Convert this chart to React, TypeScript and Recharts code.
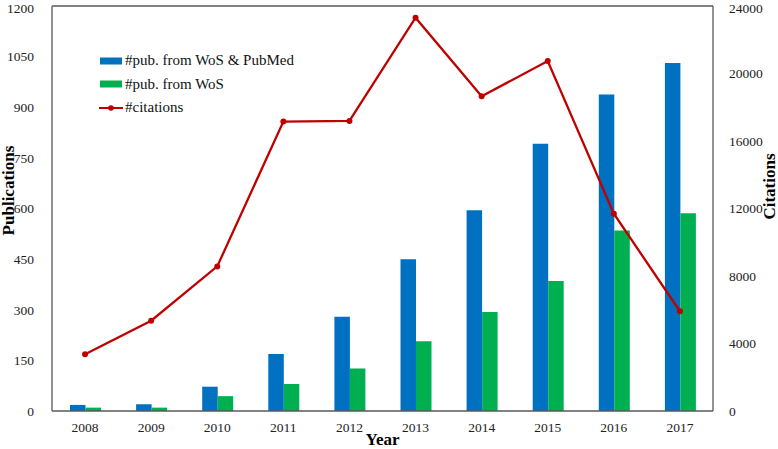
import React from "react";
import {
  ComposedChart,
  Bar,
  Line,
  XAxis,
  YAxis,
  ReferenceLine,
} from "recharts";

const years = ["2008", "2009", "2010", "2011", "2012", "2013", "2014", "2015", "2016", "2017"];
const pubWosPubmed = [18, 20, 72, 169, 279, 450, 595, 792, 938, 1031];
const pubWos = [10, 10, 44, 80, 126, 207, 293, 385, 535, 586];
const citations = [3360, 5350, 8570, 17150, 17190, 23310, 18650, 20740, 11690, 5910];

const leftTicks = [0, 150, 300, 450, 600, 750, 900, 1050, 1200];
const rightTicks = [0, 4000, 8000, 12000, 16000, 20000, 24000];

const BLUE = "#0070C0";
const GREEN = "#00B050";
const RED = "#C00000";
const AXIS = "#595959";
const FONT = "'Liberation Serif', 'Times New Roman', serif";

const data = years.map((y, i) => ({
  year: y,
  both: pubWosPubmed[i],
  wos: pubWos[i],
  cites: citations[i],
}));

const tickStyle = { fontFamily: FONT, fontSize: 13.5, fill: "#222" };

const legendItems = [
  { label: "#pub. from WoS & PubMed", color: BLUE, kind: "bar" },
  { label: "#pub. from WoS", color: GREEN, kind: "bar" },
  { label: "#citations", color: RED, kind: "line" },
];

function ChartLegend() {
  return (
    <div
      style={{
        position: "absolute",
        top: 49,
        left: 99,
        fontFamily: FONT,
        fontSize: 15,
        color: "#111",
      }}
    >
      {legendItems.map((it) => (
        <div key={it.label} style={{ display: "flex", alignItems: "center", height: 23.5 }}>
          <svg width={24} height={10} style={{ marginRight: 2 }}>
            {it.kind === "bar" ? (
              <rect x={1} y={1.5} width={22} height={7} fill={it.color} />
            ) : (
              <g>
                <line x1={0} y1={5} x2={24} y2={5} stroke={it.color} strokeWidth={2} />
                <circle cx={12} cy={5} r={2.8} fill={it.color} />
              </g>
            )}
          </svg>
          <span>{it.label}</span>
        </div>
      ))}
    </div>
  );
}

function rotatedLabel(text: string, dx: number, dy: number) {
  return ({ viewBox }: any) => {
    const x = viewBox.x + dx;
    const y = viewBox.y + viewBox.height / 2 + dy;
    return (
      <text
        x={x}
        y={y}
        transform={`rotate(-90, ${x}, ${y})`}
        textAnchor="middle"
        style={{ fontFamily: FONT, fontSize: 17, fontWeight: "bold", fill: "#000" }}
      >
        {text}
      </text>
    );
  };
}

export default function App() {
  return (
    <div style={{ position: "relative", width: 778, height: 449 }}>
      <style>{"body{margin:0;background:#fff}"}</style>
      <ComposedChart
        width={778}
        height={449}
        data={data}
        margin={{ top: 6, right: 0, bottom: 0, left: 0 }}
        barGap={0}
        barCategoryGap="26%"
      >
        <XAxis
          dataKey="year"
          height={38}
          tickLine={false}
          axisLine={{ stroke: AXIS, strokeWidth: 1.3 }}
          tick={tickStyle}
          tickMargin={5}
          label={{
            content: ({ viewBox }: any) => (
              <text
                x={viewBox.x + viewBox.width / 2}
                y={viewBox.y + 34}
                textAnchor="middle"
                style={{ fontFamily: FONT, fontSize: 17, fontWeight: "bold", fill: "#000" }}
              >
                Year
              </text>
            ),
          }}
        />
        <YAxis
          yAxisId="left"
          width={52}
          domain={[0, 1200]}
          ticks={leftTicks}
          tickLine={false}
          axisLine={{ stroke: AXIS, strokeWidth: 1.3 }}
          tick={tickStyle}
          tickMargin={12}
          label={{ content: rotatedLabel("Publications", 14, -18) }}
        />
        <YAxis
          yAxisId="right"
          orientation="right"
          width={65}
          domain={[0, 24000]}
          ticks={rightTicks}
          tickLine={false}
          axisLine={{ stroke: AXIS, strokeWidth: 1.3 }}
          tick={tickStyle}
          tickMargin={10}
          label={{ content: rotatedLabel("Citations", 62, -22) }}
        />
        <ReferenceLine yAxisId="left" y={1200} stroke={AXIS} strokeWidth={1.3} />
        <Bar
          yAxisId="left"
          dataKey="both"
          name="#pub. from WoS & PubMed"
          fill={BLUE}
          barSize={15.5}
          isAnimationActive={false}
        />
        <Bar
          yAxisId="left"
          dataKey="wos"
          name="#pub. from WoS"
          fill={GREEN}
          barSize={15.5}
          isAnimationActive={false}
        />
        <Line
          yAxisId="right"
          dataKey="cites"
          name="#citations"
          type="linear"
          stroke={RED}
          strokeWidth={2.3}
          dot={{ r: 3, fill: RED, stroke: RED, strokeWidth: 0 }}
          activeDot={false}
          isAnimationActive={false}
        />
      </ComposedChart>
      <ChartLegend />
    </div>
  );
}
